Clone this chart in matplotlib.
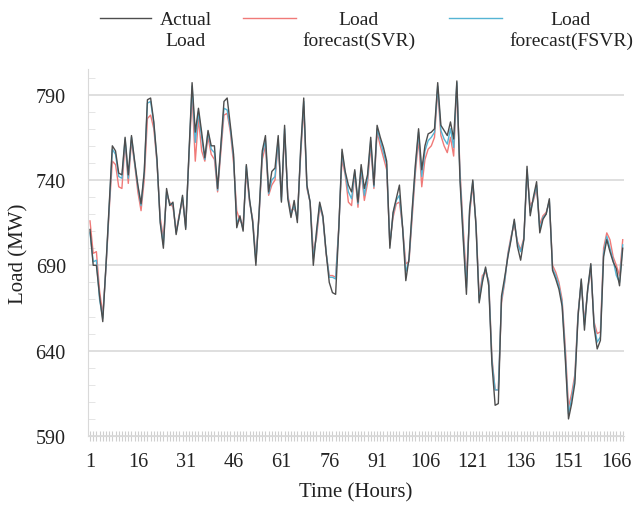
import matplotlib
matplotlib.use("Agg")
import matplotlib.pyplot as plt
from matplotlib.lines import Line2D
from matplotlib.ticker import MultipleLocator

# hourly load for one week (MW)
hours = list(range(1, 169))
actual_load = [
    711, 690, 690, 672, 657, 690, 725, 760, 757, 744, 743, 765, 743, 766, 751, 737, 726, 745, 787, 788,
    774, 752, 715, 700, 735, 725, 727, 708, 719, 731, 711, 755, 797, 768, 782, 768, 753, 769, 760, 760,
    735, 760, 786, 788, 772, 755, 712, 719, 710, 749, 729, 715, 690, 721, 757, 766, 733, 745, 747, 766,
    727, 772, 729, 718, 728, 715, 757, 788, 737, 727, 690, 710, 727, 719, 698, 680, 674, 673, 712, 758,
    745, 737, 733, 746, 727, 749, 735, 743, 765, 737, 772, 765, 759, 751, 700, 721, 729, 737, 712, 681,
    694, 723, 749, 770, 746, 760, 767, 768, 770, 797, 772, 769, 766, 774, 764, 798, 739, 705, 673, 723,
    740, 713, 668, 680, 689, 678, 632, 608, 609, 672, 683, 695, 705, 717, 701, 693, 705, 748, 719, 730,
    739, 709, 717, 720, 729, 687, 682, 676, 666, 635, 600, 609, 621, 660, 682, 652, 676, 691, 654, 641,
    646, 695, 705, 698, 692, 688, 678, 700,
]
svr_forecast = [
    716, 697, 698, 675, 661, 688, 722, 751, 749, 736, 735, 762, 738, 763, 749, 733, 722, 740, 776, 778,
    770, 750, 718, 706, 731, 727, 724, 710, 720, 728, 713, 753, 790, 751, 776, 757, 751, 765, 755, 752,
    733, 756, 778, 779, 768, 750, 722, 716, 714, 745, 727, 717, 694, 719, 752, 760, 731, 737, 740, 762,
    730, 767, 731, 722, 723, 719, 753, 783, 735, 727, 698, 706, 724, 718, 697, 684, 684, 683, 713, 752,
    743, 727, 725, 744, 724, 745, 728, 738, 760, 735, 768, 760, 753, 746, 703, 718, 726, 727, 712, 691,
    692, 718, 744, 764, 736, 752, 758, 760, 765, 793, 766, 760, 756, 765, 754, 795, 745, 712, 682, 720,
    737, 715, 671, 684, 686, 681, 636, 617, 617, 668, 680, 697, 707, 714, 704, 699, 706, 743, 725, 728,
    735, 714, 719, 721, 727, 690, 686, 680, 670, 642, 607, 615, 626, 662, 680, 657, 675, 688, 657, 650,
    651, 700, 709, 705, 695, 690, 684, 705,
]
fsvr_forecast = [
    709, 692, 693, 670, 659, 689, 724, 758, 755, 742, 741, 764, 741, 765, 750, 736, 725, 744, 785, 786,
    773, 751, 716, 702, 733, 726, 726, 709, 719, 730, 712, 754, 795, 762, 780, 765, 752, 768, 758, 756,
    734, 759, 782, 781, 770, 753, 715, 718, 711, 748, 728, 716, 692, 720, 755, 763, 732, 740, 742, 764,
    728, 770, 730, 720, 725, 717, 755, 786, 736, 727, 694, 708, 726, 718, 698, 683, 683, 682, 712, 756,
    744, 733, 729, 745, 726, 747, 731, 741, 763, 736, 770, 763, 756, 749, 702, 720, 728, 731, 712, 686,
    693, 721, 747, 768, 742, 757, 763, 765, 768, 795, 769, 764, 761, 770, 759, 797, 742, 708, 677, 722,
    739, 714, 669, 682, 688, 680, 634, 617, 617, 670, 681, 696, 706, 716, 703, 698, 705, 746, 721, 729,
    737, 711, 718, 720, 728, 688, 684, 678, 668, 638, 603, 612, 624, 661, 681, 655, 675, 690, 656, 645,
    648, 697, 707, 700, 693, 684, 680, 702,
]
series_labels = ["Actual\nLoad", "Load\nforecast(SVR)", "Load\nforecast(FSVR)"]
tick_hours = list(range(1, 167, 15))
y_ticks = [590, 640, 690, 740, 790]

colors = ["#4d4d4d", "#f07a78", "#55b4d4"]
plt.rcParams["font.family"] = ["Liberation Serif", "DejaVu Serif"]

W, H = 636, 510
fig = plt.figure(figsize=(W / 100, H / 100), dpi=100)
ax = fig.add_axes([88 / W, 1 - 437 / H, (624 - 88) / W, (437 - 70) / H])

ax.plot(hours, svr_forecast, color=colors[1], lw=1.0)
ax.plot(hours, fsvr_forecast, color=colors[2], lw=1.0)
ax.plot(hours, actual_load, color=colors[0], lw=1.0)

ax.set_xlim(0.37, 168.4)
ax.set_ylim(590, 805)
ax.set_yticks(y_ticks)
ax.yaxis.set_minor_locator(MultipleLocator(10))
ax.set_xticks(tick_hours)
ax.set_xticks(hours, minor=True)
ax.grid(axis="y", which="major", color="#d9d9d9", lw=1.2)
ax.set_axisbelow(True)

for side in ["top", "right"]:
    ax.spines[side].set_visible(False)
ax.spines["left"].set_color("#d9d9d9")
ax.spines["bottom"].set_color("#d9d9d9")

ax.tick_params(axis="x", which="both", direction="inout", length=7, width=0.8,
               color="#cfcfcf", labelsize=14.5, pad=8, labelcolor="#222222")
ax.tick_params(axis="y", which="major", length=0, pad=16, labelsize=14.5, labelcolor="#222222")
ax.tick_params(axis="y", which="minor", direction="in", length=5, color="#e0e0e0")

ax.set_xlabel("Time (Hours)", fontsize=15, labelpad=8, color="#222222")
ax.set_ylabel("Load (MW)", fontsize=15, labelpad=5, color="#222222")

# legend drawn by hand: handle on first text line, centred two-line labels
handle_px = [(100, 151), (243, 296), (449, 502)]
text_px = [186, 359, 571]
for (x0, x1), xt, label, c in zip(handle_px, text_px, series_labels, colors):
    fig.add_artist(Line2D([x0 / W, x1 / W], [1 - 19 / H] * 2, color=c, lw=1.0))
    fig.text(xt / W, 1 - 31 / H, label, ha="center", va="center", ma="center",
             fontsize=14, linespacing=1.25, color="#222222")

fig.savefig("out.png", dpi=100)
